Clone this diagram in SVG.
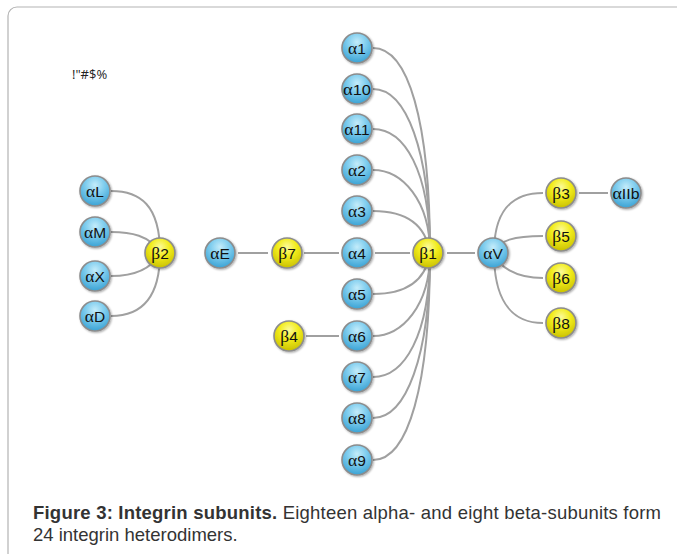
<svg xmlns="http://www.w3.org/2000/svg" width="677" height="554" viewBox="0 0 677 554">
<defs>
<radialGradient id="gb" cx="0.5" cy="0.3" r="0.7">
<stop offset="0" stop-color="#c4ecfa"/>
<stop offset="0.45" stop-color="#7fcdee"/>
<stop offset="1" stop-color="#3aa2d4"/>
</radialGradient>
<radialGradient id="gy" cx="0.5" cy="0.3" r="0.7">
<stop offset="0" stop-color="#fbfa9a"/>
<stop offset="0.45" stop-color="#f2ec1c"/>
<stop offset="1" stop-color="#c9c000"/>
</radialGradient>
<filter id="sh" x="-30%" y="-30%" width="160%" height="160%">
<feGaussianBlur in="SourceAlpha" stdDeviation="1.2"/>
<feOffset dx="0.5" dy="1.2" result="b"/>
<feComponentTransfer><feFuncA type="linear" slope="0.35"/></feComponentTransfer>
<feMerge><feMergeNode/><feMergeNode in="SourceGraphic"/></feMerge>
</filter>
</defs>
<style>
.frame{fill:none;stroke:#b3b3b3;stroke-width:1.2}
.e{fill:none;stroke:#a0a0a0;stroke-width:2}
.a{fill:url(#gb);stroke:#8c8c8c;stroke-width:1.6;filter:url(#sh)}
.b{fill:url(#gy);stroke:#8c8c8c;stroke-width:1.6;filter:url(#sh)}
.t{font-family:"Liberation Sans",Arial,sans-serif;font-size:15.5px;fill:#111;text-anchor:middle}
.g{font-family:"Liberation Serif","Times New Roman",serif;font-size:17.5px}
.cap{font-family:"Liberation Sans",Arial,sans-serif;font-size:18.5px;fill:#333}
</style>
<rect class="frame" x="8" y="7" width="700" height="555" rx="9"/>
<text x="72" y="79" style="font-family:'Open Sans','Liberation Sans',sans-serif;font-size:13px;fill:#222">!"#$%</text>
<g id="connectors">
<path class="e" d="M373,48 C408,48 430,120 430,253"/>
<path class="e" d="M373,89 C406,89 430,150 430,253"/>
<path class="e" d="M373,129 C404,129 430,170 430,253"/>
<path class="e" d="M373,170 C402,170 430,200 430,253"/>
<path class="e" d="M373,211 C400,211 425,220 430,253"/>
<path class="e" d="M373,294 C400,294 425,286 430,253"/>
<path class="e" d="M373,336 C402,336 430,306 430,253"/>
<path class="e" d="M373,377 C404,377 430,336 430,253"/>
<path class="e" d="M373,418 C406,418 430,356 430,253"/>
<path class="e" d="M373,460 C408,460 430,386 430,253"/>
<line class="e" x1="375" y1="253" x2="410" y2="253"/>
<line class="e" x1="447" y1="253" x2="475" y2="253"/>
<line class="e" x1="304" y1="253" x2="339" y2="253"/>
<line class="e" x1="238" y1="253" x2="268" y2="253"/>
<line class="e" x1="306" y1="336" x2="339" y2="336"/>
<line class="e" x1="579" y1="193" x2="608" y2="193"/>
<path class="e" d="M111,191 C140,191 160,205 160,253"/>
<path class="e" d="M111,232 C130,232 150,235 160,253"/>
<path class="e" d="M111,276 C130,276 150,272 160,253"/>
<path class="e" d="M111,316 C140,316 160,300 160,253"/>
<path class="e" d="M494,253 C494,215 508,193 543,193"/>
<path class="e" d="M494,253 C498,240 515,236 543,236"/>
<path class="e" d="M494,253 C498,266 515,278 543,278"/>
<path class="e" d="M494,253 C494,295 508,323 543,323"/>
</g>
<g id="a1"><circle class="a" cx="357" cy="48" r="15"/><text class="t" x="357" y="54"><tspan class="g">α</tspan>1</text></g>
<g id="a10"><circle class="a" cx="357" cy="89" r="15"/><text class="t" x="357" y="95" textLength="28" lengthAdjust="spacingAndGlyphs"><tspan class="g">α</tspan>10</text></g>
<g id="a11"><circle class="a" cx="357" cy="129" r="15"/><text class="t" x="357" y="135"><tspan class="g">α</tspan>11</text></g>
<g id="a2"><circle class="a" cx="357" cy="170" r="15"/><text class="t" x="357" y="176"><tspan class="g">α</tspan>2</text></g>
<g id="a3"><circle class="a" cx="357" cy="211" r="15"/><text class="t" x="357" y="217"><tspan class="g">α</tspan>3</text></g>
<g id="a4"><circle class="a" cx="357" cy="253" r="15"/><text class="t" x="357" y="259"><tspan class="g">α</tspan>4</text></g>
<g id="a5"><circle class="a" cx="357" cy="294" r="15"/><text class="t" x="357" y="300"><tspan class="g">α</tspan>5</text></g>
<g id="a6"><circle class="a" cx="357" cy="336" r="15"/><text class="t" x="357" y="342"><tspan class="g">α</tspan>6</text></g>
<g id="a7"><circle class="a" cx="357" cy="377" r="15"/><text class="t" x="357" y="383"><tspan class="g">α</tspan>7</text></g>
<g id="a8"><circle class="a" cx="357" cy="418" r="15"/><text class="t" x="357" y="424"><tspan class="g">α</tspan>8</text></g>
<g id="a9"><circle class="a" cx="357" cy="460" r="15"/><text class="t" x="357" y="466"><tspan class="g">α</tspan>9</text></g>
<g id="b1"><circle class="b" cx="428" cy="253" r="15"/><text class="t" x="428" y="259"><tspan class="g">β</tspan>1</text></g>
<g id="aV"><circle class="a" cx="493" cy="253" r="15"/><text class="t" x="493" y="259"><tspan class="g">α</tspan>V</text></g>
<g id="b3"><circle class="b" cx="561" cy="193" r="15"/><text class="t" x="561" y="199"><tspan class="g">β</tspan>3</text></g>
<g id="aIIb"><circle class="a" cx="626" cy="193" r="15"/><text class="t" x="626" y="199" textLength="27" lengthAdjust="spacingAndGlyphs"><tspan class="g">α</tspan>IIb</text></g>
<g id="b5"><circle class="b" cx="561" cy="236" r="15"/><text class="t" x="561" y="242"><tspan class="g">β</tspan>5</text></g>
<g id="b6"><circle class="b" cx="561" cy="278" r="15"/><text class="t" x="561" y="284"><tspan class="g">β</tspan>6</text></g>
<g id="b8"><circle class="b" cx="561" cy="323" r="15"/><text class="t" x="561" y="329"><tspan class="g">β</tspan>8</text></g>
<g id="aE"><circle class="a" cx="220" cy="253" r="15"/><text class="t" x="220" y="259"><tspan class="g">α</tspan>E</text></g>
<g id="b7"><circle class="b" cx="287" cy="253" r="15"/><text class="t" x="287" y="259"><tspan class="g">β</tspan>7</text></g>
<g id="b4"><circle class="b" cx="289" cy="336" r="15"/><text class="t" x="289" y="342"><tspan class="g">β</tspan>4</text></g>
<g id="aL"><circle class="a" cx="95" cy="191" r="15"/><text class="t" x="95" y="197"><tspan class="g">α</tspan>L</text></g>
<g id="aM"><circle class="a" cx="95" cy="232" r="15"/><text class="t" x="95" y="238"><tspan class="g">α</tspan>M</text></g>
<g id="aX"><circle class="a" cx="95" cy="276" r="15"/><text class="t" x="95" y="282"><tspan class="g">α</tspan>X</text></g>
<g id="aD"><circle class="a" cx="95" cy="316" r="15"/><text class="t" x="95" y="322"><tspan class="g">α</tspan>D</text></g>
<g id="b2"><circle class="b" cx="160" cy="253" r="15"/><text class="t" x="160" y="259"><tspan class="g">β</tspan>2</text></g>
<text class="cap" x="33" y="519" textLength="628" lengthAdjust="spacing"><tspan font-weight="bold">Figure 3: Integrin subunits.</tspan> Eighteen alpha- and eight beta-subunits form</text>
<text class="cap" x="33" y="541">24 integrin heterodimers.</text>
</svg>
